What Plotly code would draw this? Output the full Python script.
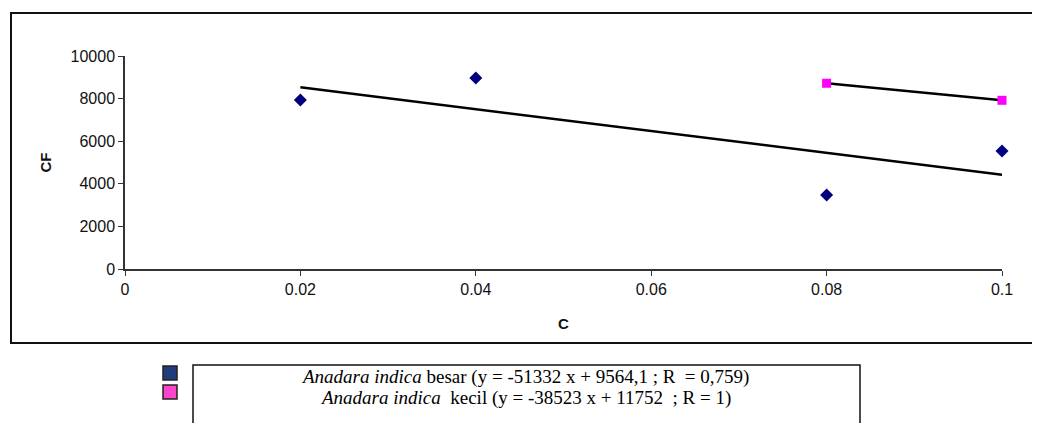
import numpy as np
import plotly.graph_objects as go

# Data
besar_x = [0.02, 0.04, 0.08, 0.1]
besar_y = [7930, 8970, 3470, 5540]
kecil_x = [0.08, 0.1]
kecil_y = [8720, 7920]

legend_labels = [
    "<i>Anadara indica</i> besar (y = -51332 x + 9564,1 ; R  = 0,759)",
    "<i>Anadara indica</i>  kecil (y = -38523 x + 11752  ; R = 1)",
]
x_ticks = [0, 0.02, 0.04, 0.06, 0.08, 0.1]
x_tick_text = ["0", "0.02", "0.04", "0.06", "0.08", "0.1"]
y_ticks = [0, 2000, 4000, 6000, 8000, 10000]
y_tick_text = ["0", "2000", "4000", "6000", "8000", "10000"]

OFF = 8  # page body margin
W, H = 1040 - OFF, 423 - OFF
L, R_, T, B = 125 - OFF, 1002 - OFF, 56 - OFF, 269 - OFF  # plot area pixels (figure coords)


def px(xp):
    return (xp - OFF - L) / (R_ - L)


def py(yp):
    return (B - (yp - OFF)) / (B - T)


def fit_line(xs, ys):
    m, c = np.polyfit(xs, ys, 1)
    xx = np.array([min(xs), max(xs)])
    return xx, m * xx + c


fig = go.Figure()
bx, by = fit_line(besar_x, besar_y)
kx, ky = fit_line(kecil_x, kecil_y)
fig.add_trace(go.Scatter(x=bx, y=by, mode="lines", line=dict(color="black", width=2.5),
                         showlegend=False, hoverinfo="skip"))
fig.add_trace(go.Scatter(x=kx, y=ky, mode="lines", line=dict(color="black", width=2.5),
                         showlegend=False, hoverinfo="skip"))
fig.add_trace(go.Scatter(x=besar_x, y=besar_y, mode="markers", cliponaxis=False,
                         marker=dict(symbol="diamond", size=10, color="#000080"),
                         showlegend=False))
fig.add_trace(go.Scatter(x=kecil_x, y=kecil_y, mode="markers", cliponaxis=False,
                         marker=dict(symbol="square", size=9, color="#FF00FF"),
                         showlegend=False))

axis_font = dict(family="Liberation Sans, Arial", size=16, color="#111111")
title_font = dict(family="Liberation Sans, Arial", size=15, color="#111111")
fig.update_xaxes(range=[0, 0.1], tickvals=x_ticks, ticktext=x_tick_text,
                 showgrid=False, zeroline=False, showline=True, linecolor="#333333",
                 linewidth=1.5, ticks="outside", ticklen=5, tickcolor="#333333",
                 tickfont=axis_font,
                 title=dict(text="<b>C</b>", font=title_font, standoff=22))
fig.update_yaxes(range=[0, 10000], tickvals=y_ticks, ticktext=y_tick_text,
                 showgrid=False, zeroline=False, showline=True, linecolor="#333333",
                 linewidth=1.5, ticks="outside", ticklen=5, tickcolor="#333333",
                 tickfont=axis_font,
                 title=dict(text="<b>CF</b>", font=title_font, standoff=15))

shapes = [
    # outer chart frame
    dict(type="rect", xref="paper", yref="paper", x0=px(11), x1=px(1050), y0=py(343), y1=py(13),
         line=dict(color="#111111", width=2), fillcolor="rgba(0,0,0,0)", layer="below"),
    # legend text box
    dict(type="rect", xref="paper", yref="paper", x0=px(193), x1=px(860), y0=py(440), y1=py(365),
         line=dict(color="#111111", width=1.5), fillcolor="rgba(0,0,0,0)"),
    # legend swatches
    dict(type="rect", xref="paper", yref="paper", x0=px(163), x1=px(177), y0=py(380), y1=py(366),
         line=dict(color="#222222", width=1.5), fillcolor="#203C7C"),
    dict(type="rect", xref="paper", yref="paper", x0=px(163), x1=px(177), y0=py(399), y1=py(385),
         line=dict(color="#222222", width=1.5), fillcolor="#FF44CC"),
]
annotations = [
    dict(xref="paper", yref="paper", x=px(525), y=py(377), text=legend_labels[0], showarrow=False,
         xanchor="center", yanchor="middle", borderpad=0,
         font=dict(family="Liberation Serif, Times New Roman", size=19, color="black")),
    dict(xref="paper", yref="paper", x=px(525), y=py(398), text=legend_labels[1], showarrow=False,
         xanchor="center", yanchor="middle", borderpad=0,
         font=dict(family="Liberation Serif, Times New Roman", size=19, color="black")),
]

fig.update_layout(width=W, height=H, margin=dict(l=L, r=W - R_, t=T, b=H - B),
                  plot_bgcolor="white", paper_bgcolor="white",
                  shapes=shapes, annotations=annotations, showlegend=False)

fig.write_html("out.html")
